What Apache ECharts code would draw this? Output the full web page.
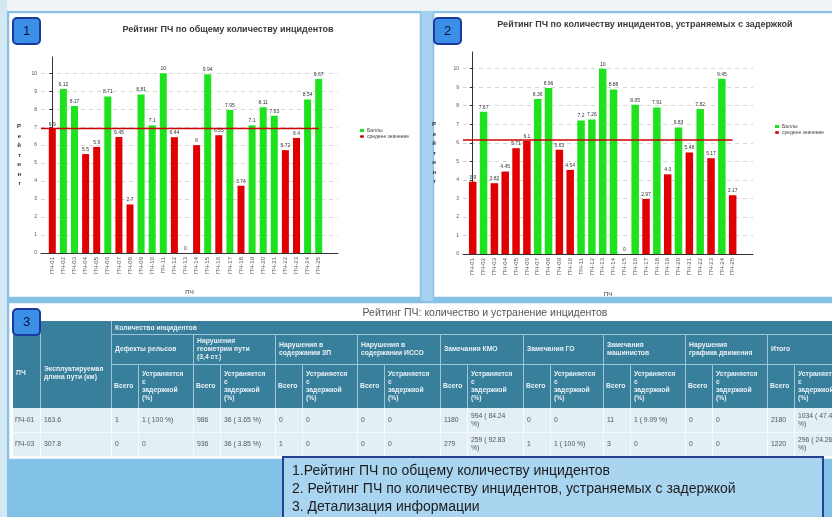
<!DOCTYPE html>
<html><head><meta charset="utf-8">
<script src="https://cdn.jsdelivr.net/npm/echarts@6/dist/echarts.min.js"></script>
<style>html,body{margin:0;padding:0;background:#fff}#c{width:832px;height:517px}</style>
</head><body><div id="c"></div>
<script>
// ---------- DATA ----------
const title1 = 'Рейтинг ПЧ по общему количеству инцидентов';
const title2 = 'Рейтинг ПЧ по количеству инцидентов, устраняемых с задержкой';
const categories1 = ['ПЧ-01','ПЧ-02','ПЧ-03','ПЧ-04','ПЧ-05','ПЧ-06','ПЧ-07','ПЧ-08','ПЧ-09','ПЧ-10','ПЧ-11','ПЧ-12','ПЧ-13','ПЧ-14','ПЧ-15','ПЧ-16','ПЧ-17','ПЧ-18','ПЧ-19','ПЧ-20','ПЧ-21','ПЧ-22','ПЧ-23','ПЧ-24','ПЧ-25'];
const values1 = [6.9, 9.12, 8.17, 5.5, 5.9, 8.71, 6.45, 2.7, 8.81, 7.1, 10, 6.44, 0, 6, 9.94, 6.55, 7.95, 3.74, 7.1, 8.11, 7.63, 5.72, 6.4, 8.54, 9.67];
const average1 = 6.93;
const categories2 = ['ПЧ-01','ПЧ-02','ПЧ-03','ПЧ-04','ПЧ-05','ПЧ-06','ПЧ-07','ПЧ-08','ПЧ-09','ПЧ-10','ПЧ-11','ПЧ-12','ПЧ-13','ПЧ-14','ПЧ-15','ПЧ-16','ПЧ-17','ПЧ-18','ПЧ-19','ПЧ-20','ПЧ-21','ПЧ-22','ПЧ-23','ПЧ-24','ПЧ-25'];
const values2 = [3.9, 7.67, 3.82, 4.45, 5.71, 6.1, 8.36, 8.96, 5.63, 4.54, 7.2, 7.26, 10, 8.88, 0, 8.05, 2.97, 7.91, 4.3, 6.83, 5.48, 7.82, 5.17, 9.45, 3.17];
const average2 = 6.15;
const seriesNames = ['Баллы', 'среднее значение'];
const yAxisName = 'Рейтинг';
const xAxisName = 'ПЧ';

const tableTitle = 'Рейтинг ПЧ: количество и устранение инцидентов';
const headPCh = 'ПЧ';
const headLength = 'Эксплуатируемая\nдлина пути (км)';
const headCount = 'Количество инцидентов';
const groupNames = ['Дефекты рельсов','Нарушения\nгеометрии пути\n(3,4 ст.)','Нарушения в\nсодержании ЗП','Нарушения в\nсодержании ИССО','Замечания КМО','Замечания ГО','Замечания\nмашинистов','Нарушения\nграфика движения','Итого'];
const subAll = 'Всего';
const subDelayed = 'Устраняется\nс\nзадержкой\n(%)';
const rowPCh = ['ПЧ-01','ПЧ-03'];
const rowLength = ['163.6','307.8'];
const rowAll = [['1','986','0','0','1180','0','11','0','2180'],['0','936','1','0','279','1','3','0','1220']];
const rowDelayed = [['1 ( 100 %)','36 ( 3.65 %)','0','0','994 ( 84.24 %)','0','1 ( 9.09 %)','0','1034 ( 47.43 %)'],['0','36 ( 3.85 %)','0','0','259 ( 92.83 %)','1 ( 100 %)','0','0','296 ( 24.26 %)']];
const notes = ['1.Рейтинг ПЧ по общему количеству инцидентов','2. Рейтинг ПЧ по количеству инцидентов, устраняемых с задержкой','3. Детализация информации'];
const badges = ['1','2','3'];

// ---------- STYLE ----------
const FONT = '"Liberation Sans", Arial, sans-serif';
const GREEN = '#1fe21f', RED = '#e00000';

const chart = echarts.init(document.getElementById('c'));

function barData(vals, avg) {
  return vals.map(v => ({ value: v, itemStyle: { color: v < avg ? RED : GREEN } }));
}
function vertName(s) { return s.split('').join('\n'); }

// ---------- GRAPHIC (panels, table, notes) ----------
const els = [];
function rect(x, y, w, h, fill, z, stroke, lw, r) {
  els.push({ type: 'rect', silent: true, z: z, shape: { x, y, width: w, height: h, r: r || 0 }, style: { fill: fill, stroke: stroke || null, lineWidth: lw || 0 } });
}
function ln(x1, y1, x2, y2, color, z, lw) {
  els.push({ type: 'line', silent: true, z: z, shape: { x1, y1, x2, y2 }, style: { stroke: color, lineWidth: lw || 1 } });
}
function txt(x, y, t, st, z) {
  els.push({ type: 'text', silent: true, z: z || 20, x, y, style: Object.assign({ text: t, fontFamily: FONT, fill: '#333', fontSize: 7, align: 'left', verticalAlign: 'middle' }, st) });
}

// page background
rect(0, 0, 832, 517, '#82c1e8', -100);
rect(0, 0, 832, 11, '#eef3f6', -99);
rect(0, 0, 7, 517, '#d3e8f5', -99);
rect(421, 11, 12, 290, '#a6d1ef', -99);
// panels
rect(8.5, 12.5, 412, 285, '#ffffff', -90, '#8cc0e4', 1.5);
rect(433.5, 12.5, 405, 285, '#ffffff', -90, '#8cc0e4', 1.5);
rect(8.5, 302.5, 830, 157, '#ffffff', -90, '#8cc0e4', 1.5);

// chart titles
txt(228, 30, title1, { fontSize: 9, fontWeight: 'bold', fill: '#3a3a3a', align: 'center' }, 5);
txt(645, 25, title2, { fontSize: 9, fontWeight: 'bold', fill: '#3a3a3a', align: 'center' }, 5);

// table
const T = { left: 13, c1: 40, c2: 111, top: 321, r1: 334, r2: 364, hb: 408, d1: 432, d2: 456, right: 840 };
const groupX = [111, 193, 275, 357, 440, 523, 603, 685, 767];
const subW = 27;
txt(485, 313, tableTitle, { fontSize: 10.5, fill: '#555', align: 'center' }, 5);
rect(T.left, T.top, T.right - T.left, T.hb - T.top, '#387f9c', 1);
rect(T.left, T.hb, T.right - T.left, T.d2 - T.hb, '#e2f0f5', 1);
const HL = '#9cc6d6';
ln(T.c1 + .5, T.top, T.c1 + .5, T.hb, HL, 2);
ln(T.c2 + .5, T.top, T.c2 + .5, T.hb, HL, 2);
ln(T.c2, T.r1 + .5, T.right, T.r1 + .5, HL, 2);
ln(T.c2, T.r2 + .5, T.right, T.r2 + .5, HL, 2);
groupX.forEach(gx => {
  ln(gx + .5, T.r1, gx + .5, T.hb, HL, 2);
  ln(gx + subW + .5, T.r2, gx + subW + .5, T.hb, HL, 2);
});
// data row borders
const DL = '#f7fbfc';
ln(T.left, T.d1 + .5, T.right, T.d1 + .5, DL, 2);
[T.c1, T.c2].concat(groupX).forEach(x => ln(x + .5, T.hb, x + .5, T.d2, DL, 2));
groupX.forEach(gx => ln(gx + subW + .5, T.hb, gx + subW + .5, T.d2, DL, 2));
// header texts
const HT = { fontSize: 6.8, fontWeight: 'bold', fill: '#e9f1f5', lineHeight: 8 };
txt(16, (T.r1 + T.hb) / 2 + 2, headPCh, HT);
txt(44, (T.r1 + T.hb) / 2 + 2, headLength, HT);
txt(115, (T.top + T.r1) / 2 + 0.5, headCount, HT);
groupNames.forEach((g, i) => {
  const gx = groupX[i];
  txt(gx + 4, (T.r1 + T.r2) / 2 + 0.5, g, HT);
  txt(gx + 3, (T.r2 + T.hb) / 2, subAll, HT);
  txt(gx + subW + 4, (T.r2 + T.hb) / 2, subDelayed, HT);
});
// data texts
const DT = { fontSize: 6.8, fill: '#555', lineHeight: 7.5 };
rowPCh.forEach((p, r) => {
  const cy = r === 0 ? (T.hb + T.d1) / 2 : (T.d1 + T.d2) / 2;
  txt(15, cy, p, DT);
  txt(44, cy, rowLength[r], DT);
  groupX.forEach((gx, i) => {
    txt(gx + 4, cy, rowAll[r][i], DT);
    txt(gx + subW + 4, cy, rowDelayed[r][i], Object.assign({ width: 41, overflow: 'break' }, DT));
  });
});

// badges
[[13, 18], [434, 18], [13, 309]].forEach((p, i) => {
  rect(p[0], p[1], 27, 26, '#3b8fe6', 60, '#1a3a9e', 2, 4);
  txt(p[0] + 13.5, p[1] + 13.5, badges[i], { fontSize: 13, fill: '#0b1240', align: 'center' }, 61);
});

// notes box
rect(283, 457, 540, 80, '#aad5f0', 70, '#24408f', 2);
notes.forEach((n, i) => txt(292, 471 + i * 18, n, { fontSize: 14, fill: '#1c1c1c' }, 71));

// ---------- AXES ----------
function decoY(grid, nameGap, namePad) {
  return {
    type: 'value', gridIndex: grid, min: 0, max: 10.9, interval: 1,
    name: vertName(yAxisName), nameLocation: 'middle', nameGap: nameGap, nameRotate: 0,
    nameTextStyle: { fontSize: 6, lineHeight: 9.5, fontWeight: 'bold', color: '#333', fontFamily: FONT, padding: namePad },
    axisLine: { show: true, lineStyle: { color: '#333', width: 1 } },
    axisTick: { show: true, length: 3, lineStyle: { color: '#333' } },
    axisLabel: { fontSize: 5, color: '#555', margin: 4, fontFamily: FONT, showMaxLabel: false },
    splitLine: { show: true, showMaxLine: false, lineStyle: { type: [4, 4], color: '#d6d6d6', width: 1 } }
  };
}
function hiddenY(grid) {
  return { type: 'value', gridIndex: grid, min: 0, max: 10.9, interval: 1, show: false, splitLine: { show: false } };
}
function decoX(grid, min, max, gap) {
  return {
    type: 'value', gridIndex: grid, min: min, max: max,
    name: xAxisName, nameLocation: 'middle', nameGap: gap,
    nameTextStyle: { fontSize: 6, color: '#333', fontFamily: FONT },
    axisLine: { show: true, onZero: false, lineStyle: { color: '#333', width: 1 } },
    axisTick: { show: false }, axisLabel: { show: false }, splitLine: { show: false }
  };
}
function catX(grid, cats) {
  return {
    type: 'category', gridIndex: grid, data: cats, boundaryGap: true,
    axisLine: { show: false }, axisTick: { show: false },
    axisLabel: { interval: 0, rotate: 90, fontSize: 6, color: '#555', margin: 4, fontFamily: FONT },
    splitLine: { show: false }
  };
}
function barSeries(xi, yi, vals, avg, w) {
  return {
    name: seriesNames[0], type: 'bar', xAxisIndex: xi, yAxisIndex: yi, barWidth: w,
    itemStyle: { color: GREEN }, data: barData(vals, avg), z: 3,
    label: { show: true, position: 'top', distance: 2, fontSize: 5, color: '#333', fontFamily: FONT, formatter: p => String(p.value) }
  };
}
function avgSeries(xi, yi, xStart, xEnd, avg) {
  return {
    name: seriesNames[1], type: 'line', xAxisIndex: xi, yAxisIndex: yi, symbol: 'none', silent: true, z: 5,
    lineStyle: { color: '#cc0000', width: 1.5 }, itemStyle: { color: '#cc0000' },
    data: [[xStart, avg], [xEnd, avg]]
  };
}
function legendAt(left, top) {
  return {
    left: left, top: top, orient: 'vertical', padding: 0, itemGap: 1, itemWidth: 4, itemHeight: 3, selectedMode: false,
    textStyle: { fontSize: 5, color: '#444', fontFamily: FONT, padding: [0, 0, 0, -2] },
    data: [{ name: seriesNames[0], icon: 'rect' }, { name: seriesNames[1] }]
  };
}

const option = {
  animation: false,
  backgroundColor: '#ffffff',
  graphic: { elements: els },
  grid: [
    { left: 41, top: 57, width: 297, height: 196, containLabel: false },
    { left: 46.75, top: 57, width: 277.5, height: 196, containLabel: false },
    { left: 463, top: 52, width: 290, height: 202, containLabel: false },
    { left: 467.3, top: 52, width: 270.8, height: 202, containLabel: false }
  ],
  xAxis: [
    decoX(0, -1.018, 25.74, 36),
    catX(1, categories1),
    decoX(2, -0.896, 25.88, 37),
    catX(3, categories2)
  ],
  yAxis: [
    decoY(0, 20, [0, 0, 0, 0]),
    hiddenY(1),
    decoY(2, 27, [0, 0, 10, 0]),
    hiddenY(3)
  ],
  legend: [legendAt(359, 128), legendAt(774, 124)],
  series: [
    barSeries(1, 1, values1, average1, 7),
    avgSeries(0, 0, -1.018, values1.length - 1, average1),
    barSeries(3, 3, values2, average2, 7.5),
    avgSeries(2, 2, -0.896, values2.length - 1, average2)
  ]
};
chart.setOption(option);
</script></body></html>
